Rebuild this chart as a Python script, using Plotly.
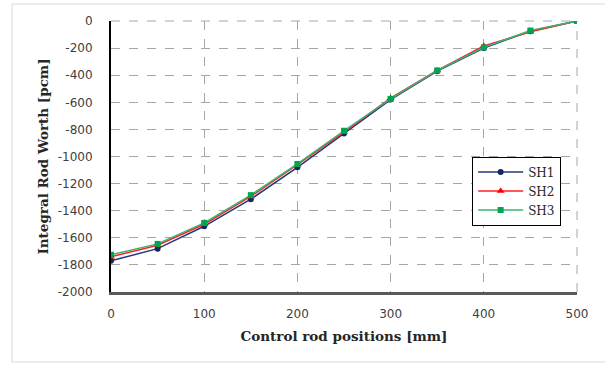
import plotly.graph_objects as go

positions = [0, 50, 100, 150, 200, 250, 300, 350, 400, 450, 500]
sh1 = [-1770, -1680, -1515, -1315, -1080, -830, -580, -370, -200, -75, 0]
sh2 = [-1740, -1655, -1500, -1295, -1060, -820, -570, -365, -185, -80, 0]
sh3 = [-1725, -1645, -1490, -1285, -1055, -810, -575, -365, -195, -70, 0]

x_ticks = [0, 100, 200, 300, 400, 500]
y_ticks = [0, -200, -400, -600, -800, -1000, -1200, -1400, -1600, -1800, -2000]
y_ticktext = [str(v) for v in y_ticks]

fig = go.Figure()
fig.add_trace(go.Scatter(x=positions, y=sh1, name="SH1", mode="lines+markers",
                         line=dict(color="#1F3A7A", width=1.5),
                         marker=dict(symbol="circle", size=6, color="#14285E")))
fig.add_trace(go.Scatter(x=positions, y=sh2, name="SH2", mode="lines+markers",
                         line=dict(color="#FF2020", width=1.5),
                         marker=dict(symbol="triangle-up", size=7, color="#FF0000")))
fig.add_trace(go.Scatter(x=positions, y=sh3, name="SH3", mode="lines+markers",
                         line=dict(color="#3CB371", width=1.5),
                         marker=dict(symbol="square", size=6, color="#00A550")))

fig.update_layout(
    width=605, height=365,
    margin=dict(l=111, r=28, t=21, b=73),
    paper_bgcolor="white", plot_bgcolor="white",
    xaxis=dict(range=[0, 500], tickvals=x_ticks,
               showgrid=True, gridcolor="#A6A6A6", griddash="dash", gridwidth=1,
               showline=True, linecolor="#595959", linewidth=2.5,
               ticks="", ticklabelstandoff=9,
               zeroline=False, layer="above traces",
               tickfont=dict(family="DejaVu Sans", size=12, color="#404040"),
               title=dict(text="<b>Control rod positions [mm]</b>",
                          font=dict(family="DejaVu Serif", size=13.5, color="#262626"),
                          standoff=12)),
    yaxis=dict(range=[-2000, 0], tickvals=y_ticks, ticktext=y_ticktext,
               showgrid=True, gridcolor="#A6A6A6", griddash="dash", gridwidth=1,
               showline=True, linecolor="#000000", linewidth=2,
               ticks="", ticklabelstandoff=14,
               zeroline=False, layer="above traces",
               tickfont=dict(family="DejaVu Sans", size=12, color="#404040"),
               title=dict(text="<b>Integral Rod Worth [pcm]</b>",
                          font=dict(family="DejaVu Serif", size=13.5, color="#262626"),
                          standoff=6)),
    legend=dict(x=0.775, y=0.50, xanchor="left", yanchor="top",
                bgcolor="white", bordercolor="#000000", borderwidth=1,
                font=dict(family="DejaVu Serif", size=12, color="#262626"),
                itemwidth=45, tracegroupgap=2),
    showlegend=True,
)

# outer chart border
fig.add_shape(type="rect", xref="paper", yref="paper",
              x0=-0.2124, x1=1.0665, y0=-0.2583, y1=1.0627,
              line=dict(color="#D9D9D9", width=1), fillcolor="rgba(0,0,0,0)",
              layer="below")
# right and top dashed grid borders
fig.add_shape(type="line", xref="paper", yref="paper", x0=1, x1=1, y0=0, y1=1,
              line=dict(color="#A6A6A6", width=1, dash="dash"), layer="below")
fig.add_shape(type="line", xref="paper", yref="paper", x0=0, x1=1, y0=1, y1=1,
              line=dict(color="#A6A6A6", width=1, dash="dash"), layer="below")

fig.write_html("out.html")
